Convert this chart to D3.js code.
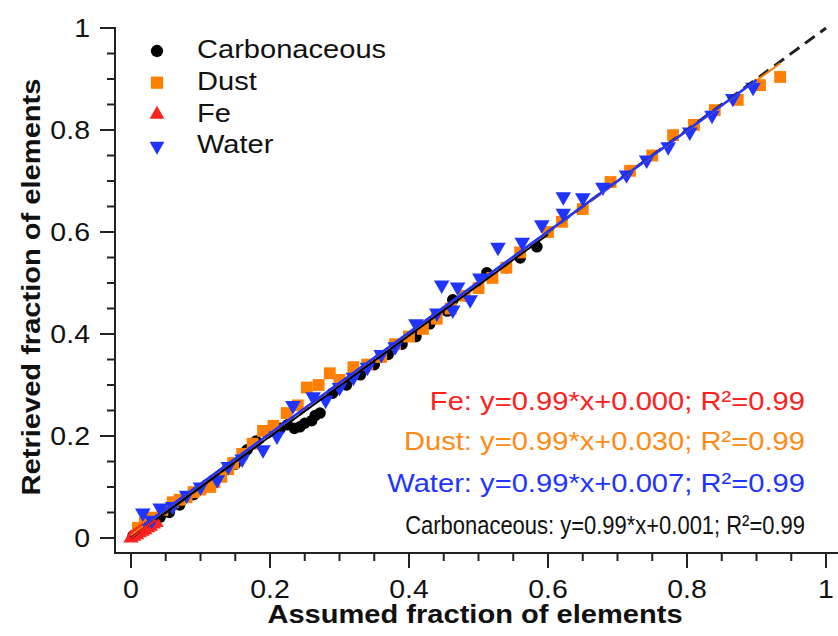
<!DOCTYPE html>
<html>
<head>
<meta charset="utf-8">
<script src="https://cdn.jsdelivr.net/npm/d3@7"></script>
<style>
  body { margin: 0; background: #fff; }
  svg { display: block; font-family: "Liberation Sans", Arial, sans-serif; }
</style>
</head>
<body>
<svg id="chart" width="838" height="636"></svg>
<script>
// ── DATA ────────────────────────────────────────────
const seriesNames = ['Carbonaceous', 'Dust', 'Fe', 'Water'];

const carbonaceous = [
  [0.003,0.004],[0.008,0.007],[0.015,0.013],[0.025,0.022],[0.035,0.032],[0.042,0.041],
  [0.055,0.05],[0.07,0.065],[0.09,0.085],[0.11,0.105],[0.13,0.125],[0.15,0.145],
  [0.167,0.173],[0.18,0.19],[0.196,0.206],[0.205,0.21],[0.215,0.215],[0.225,0.222],
  [0.235,0.215],[0.243,0.218],[0.25,0.225],[0.26,0.23],[0.265,0.24],[0.272,0.245],
  [0.29,0.284],[0.31,0.3],[0.33,0.32],[0.35,0.34],[0.37,0.36],[0.39,0.38],
  [0.41,0.395],[0.43,0.42],[0.455,0.445],[0.463,0.467],[0.48,0.475],[0.5,0.49],
  [0.512,0.52],[0.54,0.53],[0.56,0.549],[0.584,0.571]
];

const dust = [
  [0.01,0.02],[0.02,0.03],[0.03,0.04],[0.045,0.055],[0.06,0.07],[0.07,0.075],
  [0.08,0.08],[0.09,0.09],[0.1,0.095],[0.114,0.1],[0.12,0.11],[0.13,0.12],
  [0.14,0.135],[0.147,0.147],[0.16,0.165],[0.175,0.185],[0.19,0.21],[0.205,0.22],
  [0.224,0.245],[0.24,0.26],[0.253,0.295],[0.27,0.3],[0.286,0.323],[0.3,0.31],
  [0.32,0.335],[0.34,0.34],[0.36,0.355],[0.38,0.38],[0.4,0.395],[0.42,0.41],
  [0.44,0.43],[0.46,0.45],[0.48,0.475],[0.5,0.49],[0.52,0.51],[0.54,0.53],
  [0.56,0.56],[0.6,0.6],[0.62,0.62],[0.65,0.645],[0.69,0.698],[0.718,0.72],
  [0.75,0.75],[0.78,0.79],[0.81,0.81],[0.84,0.839],[0.873,0.859],[0.905,0.888],
  [0.934,0.904]
];

const fe = [
  [0.0,0.0],[0.004,0.003],[0.008,0.006],[0.012,0.01],[0.016,0.013],
  [0.02,0.016],[0.024,0.02],[0.028,0.023],[0.032,0.027],[0.036,0.03]
];

const water = [
  [0.017,0.049],[0.042,0.059],[0.03,0.035],[0.06,0.062],[0.08,0.084],[0.1,0.1],
  [0.124,0.114],[0.14,0.14],[0.16,0.155],[0.19,0.173],[0.21,0.2],[0.233,0.26],
  [0.262,0.277],[0.28,0.27],[0.3,0.295],[0.32,0.315],[0.34,0.335],[0.36,0.36],
  [0.38,0.375],[0.41,0.42],[0.44,0.441],[0.447,0.496],[0.463,0.447],[0.47,0.492],
  [0.488,0.467],[0.502,0.51],[0.528,0.57],[0.563,0.58],[0.591,0.614],[0.622,0.637],
  [0.622,0.669],[0.65,0.667],[0.679,0.688],[0.713,0.712],[0.742,0.741],[0.773,0.767],
  [0.804,0.796],[0.836,0.829],[0.866,0.862],[0.895,0.884]
];

// fitted lines as drawn: [slope, intercept, xStart, xEnd]
const fitCarb  = [0.99, 0.001, 0, 0.6];
const fitDust  = [0.99, 0.006, 0, 0.934];
const fitFe    = [0.99, 0.000, 0, 0.036];
const fitWater = [0.99, 0.007, 0.017, 0.9];

const equations = [
  'Fe: y=0.99*x+0.000; R²=0.99',
  'Dust: y=0.99*x+0.030; R²=0.99',
  'Water: y=0.99*x+0.007; R²=0.99',
  'Carbonaceous: y=0.99*x+0.001; R²=0.99'
];

const majorTicks = [0, 0.2, 0.4, 0.6, 0.8, 1];
const minorTicks = d3.range(0, 1.0001, 0.05);

// ── STYLE ───────────────────────────────────────────
const colors = { Carbonaceous: '#000000', Dust: '#FF8000', Fe: '#FF2020', Water: '#1F35FF' };
const eqColors = ['#FF2020', '#FF8A14', '#1F35FF', '#111111'];
const STRETCH = 1.14;   // the original font runs wider than Liberation Sans

const svg = d3.select('#chart');
const x = d3.scaleLinear().domain([0, 1]).range([131, 826]);
const y = d3.scaleLinear().domain([0, 1]).range([538, 28]);
const axisX0 = 115, axisY0 = 553;

// widen a text element horizontally by factor k
function widen(sel, k) {
  sel.each(function() {
    const w = this.getComputedTextLength();
    d3.select(this).attr('textLength', w * k).attr('lengthAdjust', 'spacingAndGlyphs');
  });
  return sel;
}

// ── AXES ────────────────────────────────────────────
const axes = svg.append('g').attr('stroke', '#222').attr('stroke-width', 2);
axes.append('line').attr('x1', axisX0).attr('x2', axisX0).attr('y1', y(1) - 1).attr('y2', axisY0 + 1);
axes.append('line').attr('x1', axisX0 - 1).attr('x2', 838).attr('y1', axisY0).attr('y2', axisY0);

minorTicks.forEach(t => {
  const isMajor = majorTicks.some(m => Math.abs(m - t) < 1e-6);
  const len = isMajor ? 15 : 8;
  axes.append('line').attr('x1', axisX0 - len).attr('x2', axisX0).attr('y1', y(t)).attr('y2', y(t));
  axes.append('line').attr('x1', x(t)).attr('x2', x(t)).attr('y1', axisY0).attr('y2', axisY0 + len);
});

const fmt = v => String(v);
widen(svg.append('g').selectAll('text').data(majorTicks).join('text')
  .attr('x', 90).attr('y', d => y(d)).attr('dy', '0.36em')
  .attr('text-anchor', 'end').attr('font-size', 25).attr('fill', '#111')
  .text(fmt), STRETCH);
widen(svg.append('g').selectAll('text').data(majorTicks).join('text')
  .attr('x', d => x(d)).attr('y', 589).attr('dy', '0.36em')
  .attr('text-anchor', 'middle').attr('font-size', 25).attr('fill', '#111')
  .text(fmt), STRETCH);

widen(svg.append('text')
  .attr('x', 475).attr('y', 614).attr('dy', '0.36em')
  .attr('text-anchor', 'middle').attr('font-size', 25.5).attr('font-weight', 'bold').attr('fill', '#111')
  .text('Assumed fraction of elements'), STRETCH);
widen(svg.append('text')
  .attr('transform', 'translate(31,287) rotate(-90)').attr('dy', '0.36em')
  .attr('text-anchor', 'middle').attr('font-size', 25.5).attr('font-weight', 'bold').attr('fill', '#111')
  .text('Retrieved fraction of elements'), STRETCH);

// ── MARKERS ─────────────────────────────────────────
const symSize = { Carbonaceous: 105, Dust: 140, Fe: 100, Water: 105 };
const symType = {
  Carbonaceous: d3.symbolCircle, Dust: d3.symbolSquare,
  Fe: d3.symbolTriangle, Water: d3.symbolTriangle
};
const symRot = { Carbonaceous: 0, Dust: 0, Fe: 0, Water: 180 };

function drawSeries(name, data) {
  const path = d3.symbol().type(symType[name]).size(symSize[name])();
  svg.append('g').selectAll('path').data(data).join('path')
    .attr('d', path)
    .attr('transform', d => `translate(${x(d[0])},${y(d[1])}) rotate(${symRot[name]})`)
    .attr('fill', colors[name]);
}
drawSeries('Carbonaceous', carbonaceous);
drawSeries('Dust', dust);
drawSeries('Fe', fe);
drawSeries('Water', water);

// ── LINES ───────────────────────────────────────────
svg.append('line')
  .attr('x1', x(0)).attr('y1', y(0)).attr('x2', x(1)).attr('y2', y(1))
  .attr('stroke', '#222').attr('stroke-width', 3).attr('stroke-dasharray', '12,7');

function drawFit(f, color, w) {
  const [m, b, x0, x1] = f;
  svg.append('line')
    .attr('x1', x(x0)).attr('y1', y(m * x0 + b))
    .attr('x2', x(x1)).attr('y2', y(m * x1 + b))
    .attr('stroke', color).attr('stroke-width', w);
}
drawFit(fitCarb, colors.Carbonaceous, 2);
drawFit(fitDust, colors.Dust, 2);
drawFit(fitFe, colors.Fe, 2);
drawFit(fitWater, colors.Water, 2.5);

// ── LEGEND ──────────────────────────────────────────
const legend = svg.append('g');
seriesNames.forEach((name, i) => {
  const cy = 49 + i * 31.7;
  const sz = name === 'Dust' ? 150 : name === 'Carbonaceous' ? 120 : 95;
  legend.append('path')
    .attr('d', d3.symbol().type(symType[name]).size(sz)())
    .attr('transform', `translate(157,${cy + 2}) rotate(${symRot[name]})`)
    .attr('fill', colors[name]);
  widen(legend.append('text')
    .attr('x', 197).attr('y', cy).attr('dy', '0.36em')
    .attr('font-size', 25.5).attr('fill', '#111')
    .text(name), STRETCH);
});

// ── EQUATIONS ───────────────────────────────────────
const eqY = [400, 440, 482, 524];
equations.forEach((eq, i) => {
  if (i < 3) {
    widen(svg.append('text')
      .attr('x', 805).attr('y', eqY[i]).attr('dy', '0.36em')
      .attr('text-anchor', 'end').attr('font-size', 26.5).attr('fill', eqColors[i])
      .text(eq), 1.1);
  } else {
    // the last line is set narrower in the original: squeeze it to ~400px
    const g = svg.append('g');
    const t = g.append('text')
      .attr('x', 0).attr('y', 0).attr('dy', '0.36em')
      .attr('text-anchor', 'end').attr('font-size', 26.5).attr('fill', eqColors[i])
      .text(eq);
    const k = 400 / t.node().getComputedTextLength();
    g.attr('transform', `translate(805,${eqY[i]}) scale(${k},1)`);
  }
});
</script>
</body>
</html>
